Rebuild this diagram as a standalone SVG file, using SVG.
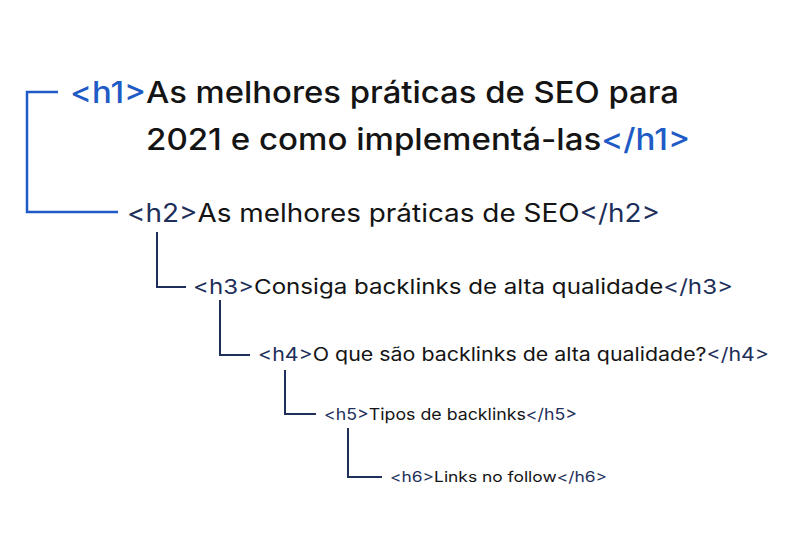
<svg xmlns="http://www.w3.org/2000/svg" width="800" height="533" viewBox="0 0 800 533">
<style>
text{font-family:Inter,"Liberation Sans",sans-serif;fill:#141414;font-weight:500}
.r{font-weight:400}
.b{fill:#1f5bc6}.n{fill:#1e2f5a}
.cb{fill:none;stroke:#1f5bc6;stroke-width:2.5}
.cn{fill:none;stroke:#1e2f5a;stroke-width:2}
</style>
<rect width="800" height="533" fill="#fff"/>
<g id="connectors">
<path class="cb" d="M58 92H27V212H118"/>
<path class="cn" d="M157 232V287H186"/>
<path class="cn" d="M220 300V355H250"/>
<path class="cn" d="M285 370V414H316"/>
<path class="cn" d="M348 428V477H382"/>
</g>
<g id="h1"><text x="70" y="103" font-size="30" textLength="609" lengthAdjust="spacingAndGlyphs"><tspan class="b">&lt;h1&gt;</tspan>As melhores práticas de SEO para</text>
<text x="146" y="150" font-size="30" textLength="544" lengthAdjust="spacingAndGlyphs">2021 e como implementá-las<tspan class="b">&lt;/h1&gt;</tspan></text></g>
<g id="h2"><text class="r" x="127" y="222" font-size="25" textLength="533" lengthAdjust="spacingAndGlyphs"><tspan class="n">&lt;h2&gt;</tspan>As melhores práticas de SEO<tspan class="n">&lt;/h2&gt;</tspan></text></g>
<g id="h3"><text class="r" x="193" y="294" font-size="20.5" textLength="540" lengthAdjust="spacingAndGlyphs"><tspan class="n">&lt;h3&gt;</tspan>Consiga backlinks de alta qualidade<tspan class="n">&lt;/h3&gt;</tspan></text></g>
<g id="h4"><text class="r" x="258" y="361" font-size="18.5" textLength="511" lengthAdjust="spacingAndGlyphs"><tspan class="n">&lt;h4&gt;</tspan>O que são backlinks de alta qualidade?<tspan class="n">&lt;/h4&gt;</tspan></text></g>
<g id="h5"><text class="r" x="324" y="420" font-size="16.5" textLength="253" lengthAdjust="spacingAndGlyphs"><tspan class="n">&lt;h5&gt;</tspan>Tipos de backlinks<tspan class="n">&lt;/h5&gt;</tspan></text></g>
<g id="h6"><text class="r" x="390" y="482" font-size="14.5" textLength="217" lengthAdjust="spacingAndGlyphs"><tspan class="n">&lt;h6&gt;</tspan>Links no follow<tspan class="n">&lt;/h6&gt;</tspan></text></g>
</svg>
